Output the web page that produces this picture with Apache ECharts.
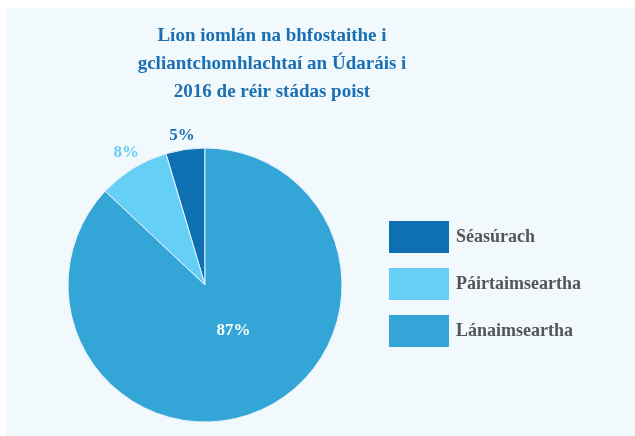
<!DOCTYPE html>
<html lang="ga">
<head>
    <meta charset="UTF-8">
    <title>Líon iomlán na bhfostaithe</title>
    <script src="https://cdn.jsdelivr.net/npm/echarts@6/dist/echarts.min.js"></script>
    <style>
        body { margin: 0; background: #fff; }
        #chart { position: absolute; left: 6px; top: 8px; width: 629px; height: 428px; background: #f2f9fd; }
    </style>
</head>
<body>
<div id="chart"></div>
<script>
    var categories = ['Séasúrach', 'Páirtaimseartha', 'Lánaimseartha'];
    var values = [4.6, 8.4, 87.0];
    var colors = ['#0e6fb3', '#66cff5', '#33a5d6'];
    var labelColors = ['#1a6fb0', '#66cff5', '#ffffff'];

    var serif = '"Liberation Serif", "DejaVu Serif", serif';
    var myChart = echarts.init(document.getElementById('chart'));

    var data = categories.map(function (name, i) {
        return {
            name: name,
            value: values[i],
            itemStyle: { color: colors[i] },
            label: {
                position: i < 2 ? 'outside' : 'inside',
                color: labelColors[i]
            }
        };
    });

    // small nudges so labels sit where the original puts them
    var labelShift = [[4, 1], [6, -3], [0, -20]];

    var option = {
        title: {
            text: 'Líon iomlán na bhfostaithe i\ngcliantchomhlachtaí an Údaráis i\n2016 de réir stádas poist',
            left: 261,
            top: 9,
            textAlign: 'center',
            textStyle: {
                fontFamily: serif,
                fontWeight: 'bold',
                fontSize: 19,
                lineHeight: 28,
                color: '#1b6fb3'
            }
        },
        legend: {
            orient: 'vertical',
            left: 383,
            top: 213,
            padding: 0,
            itemWidth: 60,
            itemHeight: 32,
            itemGap: 15,
            icon: 'rect',
            selectedMode: false,
            itemStyle: { borderWidth: 0 },
            data: categories,
            textStyle: {
                fontFamily: serif,
                fontWeight: 'bold',
                fontSize: 18,
                color: '#555555',
                padding: [0, 0, 0, 2]
            }
        },
        series: [{
            type: 'pie',
            center: [199, 277],
            radius: 137,
            startAngle: 90,
            clockwise: false,
            percentPrecision: 0,
            animation: false,
            itemStyle: { borderColor: '#e6f2f8', borderWidth: 1 },
            label: {
                formatter: '{d}%',
                fontFamily: serif,
                fontWeight: 'bold',
                fontSize: 17
            },
            labelLine: { show: false, length: 15, length2: 0 },
            labelLayout: function (p) {
                var s = labelShift[p.dataIndex];
                if (p.dataIndex === 2) return { dx: s[0], dy: s[1] };
                return { align: 'center', verticalAlign: 'middle', dx: s[0], dy: s[1] };
            },
            data: data
        }]
    };
    myChart.setOption(option);
</script>
</body>
</html>
